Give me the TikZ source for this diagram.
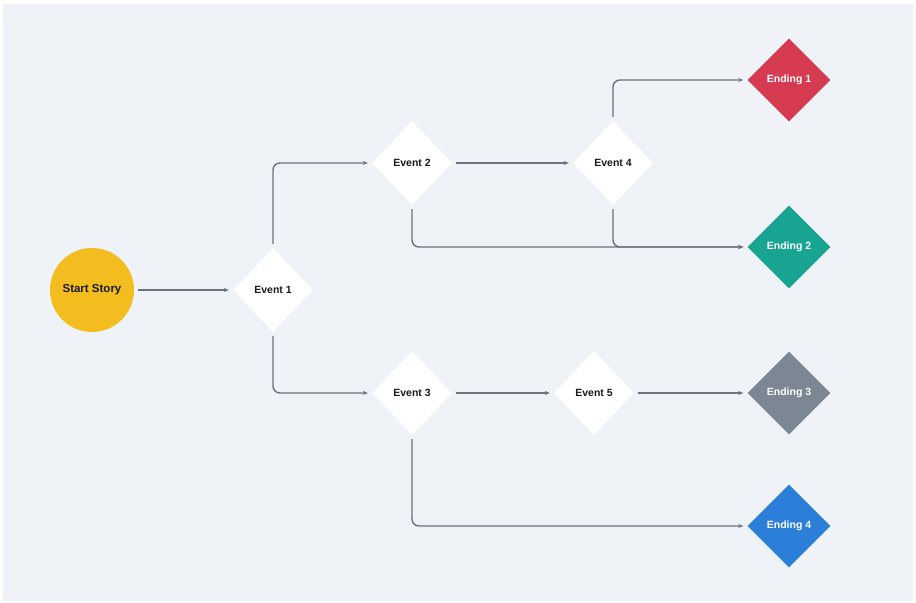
\documentclass[tikz,border=0pt]{standalone}
\usepackage{fontspec}
\setmainfont{Liberation Sans}
\usetikzlibrary{shapes.geometric,arrows.meta}
\definecolor{bgc}{HTML}{EFF2F6}
\definecolor{linec}{HTML}{6B7280}
\definecolor{startc}{HTML}{F3BD1F}
\definecolor{redc}{HTML}{D63B52}
\definecolor{tealc}{HTML}{17A592}
\definecolor{grayc}{HTML}{7B8793}
\definecolor{bluec}{HTML}{2B7FD8}
\definecolor{txtc}{HTML}{1A1A1A}
\tikzset{
  startnode/.style={circle,fill=startc,minimum size=84bp,inner sep=0pt,font=\bfseries\fontsize{11.5bp}{13bp}\selectfont,text=txtc},
  eventnode/.style={diamond,fill=white,minimum width=80bp,minimum height=84bp,inner sep=0pt,font=\bfseries\fontsize{10.5bp}{12bp}\selectfont,text=txtc},
  endnode/.style={diamond,minimum width=83bp,minimum height=83bp,inner sep=0pt,font=\bfseries\fontsize{10.5bp}{12bp}\selectfont,text=white},
  conn/.style={draw=linec,line width=1.4bp,rounded corners=7bp,-{Stealth[length=5bp,width=4bp]},shorten >=4bp,shorten <=4bp}
}
\begin{document}
\begin{tikzpicture}[x=1bp,y=-1bp]
\useasboundingbox (0,0) rectangle (916,603);
\fill[white] (0,0) rectangle (916,603);
\fill[bgc] (3,4) rectangle (913,601);
\node[startnode] (start) at (92,290) {Start Story};
\node[eventnode] (e1) at (273,290) {Event 1};
\node[eventnode] (e2) at (412,163) {Event 2};
\node[eventnode] (e4) at (613,163) {Event 4};
\node[eventnode] (e3) at (412,393) {Event 3};
\node[eventnode] (e5) at (594,393) {Event 5};
\node[endnode,fill=redc] (end1) at (789,80) {Ending 1};
\node[endnode,fill=tealc] (end2) at (789,247) {Ending 2};
\node[endnode,fill=grayc] (end3) at (789,393) {Ending 3};
\node[endnode,fill=bluec] (end4) at (789,526) {Ending 4};
\draw[conn] (start.east) -- (e1.west);
\draw[conn] (e1.north) |- (e2.west);
\draw[conn] (e1.south) |- (e3.west);
\draw[conn] (e2.east) -- (e4.west);
\draw[conn] (e4.north) |- (end1.west);
\draw[conn] (e2.south) |- (end2.west);
\draw[conn] (e4.south) |- (end2.west);
\draw[conn] (e3.east) -- (e5.west);
\draw[conn] (e5.east) -- (end3.west);
\draw[conn] (e3.south) |- (end4.west);
\end{tikzpicture}
\end{document}
